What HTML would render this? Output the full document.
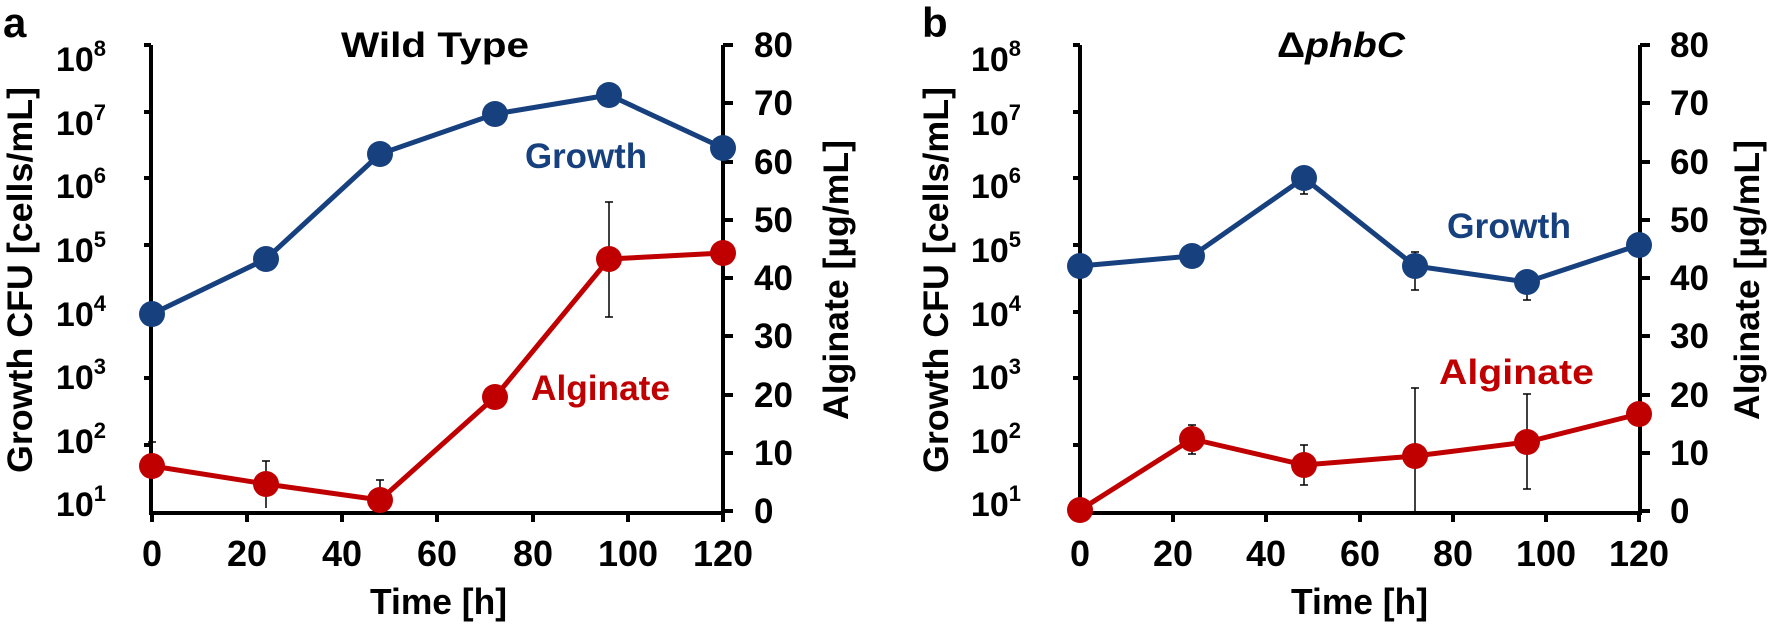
<!DOCTYPE html>
<html><head><meta charset="utf-8"><style>
html,body{margin:0;padding:0;background:#fff;}
svg{display:block;}
text{font-family:"Liberation Sans",Arial,sans-serif;font-weight:bold;}
</style></head><body>
<svg width="1770" height="627" viewBox="0 0 1770 627" xmlns="http://www.w3.org/2000/svg">
<!-- Panel a -->
<text x="3" y="37" font-size="42">a</text>
<text x="341" y="57" font-size="35" textLength="188" lengthAdjust="spacingAndGlyphs">Wild Type</text>
<g stroke="#000" stroke-width="4" fill="none">
<path d="M151,45 V513 H723 V45"/>
<path d="M144,45H151M144,112H151M144,178H151M144,245H151M144,312H151M144,378H151M144,445H151"/>
<path d="M152,511V522M247,511V522M342,511V522M437,511V522M533,511V522M628,511V522M723,511V522"/>
<path d="M723,45H733M723,103H733M723,162H733M723,220H733M723,278H733M723,336H733M723,395H733M723,453H733M723,511H733"/>
</g>
<g font-size="34" text-anchor="end">
<text x="106" y="71">10<tspan font-size="22" dy="-15">8</tspan></text>
<text x="106" y="135">10<tspan font-size="22" dy="-15">7</tspan></text>
<text x="106" y="198">10<tspan font-size="22" dy="-15">6</tspan></text>
<text x="106" y="262">10<tspan font-size="22" dy="-15">5</tspan></text>
<text x="106" y="326">10<tspan font-size="22" dy="-15">4</tspan></text>
<text x="106" y="389">10<tspan font-size="22" dy="-15">3</tspan></text>
<text x="106" y="453">10<tspan font-size="22" dy="-15">2</tspan></text>
<text x="106" y="516">10<tspan font-size="22" dy="-15">1</tspan></text>
</g>
<g font-size="36" text-anchor="middle">
<text x="152" y="566">0</text><text x="247" y="566">20</text><text x="342" y="566">40</text><text x="437" y="566">60</text><text x="533" y="566">80</text><text x="628" y="566">100</text><text x="723" y="566">120</text>
</g>
<text x="370" y="614" font-size="36" textLength="137" lengthAdjust="spacingAndGlyphs">Time [h]</text>
<g font-size="35" text-anchor="start">
<text x="754" y="57">80</text><text x="754" y="115">70</text><text x="754" y="174">60</text><text x="754" y="232">50</text><text x="754" y="290">40</text><text x="754" y="348">30</text><text x="754" y="407">20</text><text x="754" y="465">10</text><text x="754" y="523">0</text>
</g>
<text transform="translate(32,473) rotate(-90)" font-size="35" textLength="386" lengthAdjust="spacingAndGlyphs">Growth CFU [cells/mL]</text>
<text transform="translate(848,420) rotate(-90)" font-size="35" textLength="280" lengthAdjust="spacingAndGlyphs">Alginate [µg/mL]</text>
<g stroke="#000" stroke-width="1.5">
<path d="M152,442V490M148,442H156"/>
<path d="M266,461V508M262,461H270"/>
<path d="M380,480V511M376,480H384"/>
<path d="M609,202V317M605,202H613M605,317H613"/>
</g>
<polyline points="152,314 266,259 380,154 495,114 609,95 723,148" fill="none" stroke="#17407e" stroke-width="5"/>
<g fill="#17407e"><circle cx="152" cy="314" r="13"/><circle cx="266" cy="259" r="13"/><circle cx="380" cy="154" r="13"/><circle cx="495" cy="114" r="13"/><circle cx="609" cy="95" r="13"/><circle cx="723" cy="148" r="13"/></g>
<polyline points="152,466 266,484 380,500 495,397 609,259 723,253" fill="none" stroke="#c00000" stroke-width="5"/>
<g fill="#c00000"><circle cx="152" cy="466" r="13"/><circle cx="266" cy="484" r="13"/><circle cx="380" cy="500" r="13"/><circle cx="495" cy="397" r="13"/><circle cx="609" cy="259" r="13"/><circle cx="723" cy="253" r="13"/></g>
<text x="525" y="168" font-size="35" fill="#17407e" textLength="122" lengthAdjust="spacingAndGlyphs">Growth</text>
<text x="531" y="400" font-size="35" fill="#c00000" textLength="139" lengthAdjust="spacingAndGlyphs">Alginate</text>

<!-- Panel b -->
<text x="922" y="37" font-size="42">b</text>
<text x="1277" y="57" font-size="35" textLength="128" lengthAdjust="spacingAndGlyphs">Δ<tspan font-style="italic">phbC</tspan></text>
<g stroke="#000" stroke-width="4" fill="none">
<path d="M1080,45 V513 H1640 V45"/>
<path d="M1073,45H1080M1073,112H1080M1073,178H1080M1073,245H1080M1073,312H1080M1073,378H1080M1073,445H1080"/>
<path d="M1080,511V522M1173,511V522M1266,511V522M1360,511V522M1453,511V522M1546,511V522M1639,511V522"/>
<path d="M1640,45H1650M1640,103H1650M1640,162H1650M1640,220H1650M1640,278H1650M1640,336H1650M1640,395H1650M1640,453H1650M1640,511H1650"/>
</g>
<g font-size="34" text-anchor="end">
<text x="1021" y="71">10<tspan font-size="22" dy="-15">8</tspan></text>
<text x="1021" y="135">10<tspan font-size="22" dy="-15">7</tspan></text>
<text x="1021" y="198">10<tspan font-size="22" dy="-15">6</tspan></text>
<text x="1021" y="262">10<tspan font-size="22" dy="-15">5</tspan></text>
<text x="1021" y="326">10<tspan font-size="22" dy="-15">4</tspan></text>
<text x="1021" y="389">10<tspan font-size="22" dy="-15">3</tspan></text>
<text x="1021" y="453">10<tspan font-size="22" dy="-15">2</tspan></text>
<text x="1021" y="516">10<tspan font-size="22" dy="-15">1</tspan></text>
</g>
<g font-size="36" text-anchor="middle">
<text x="1080" y="566">0</text><text x="1173" y="566">20</text><text x="1266" y="566">40</text><text x="1360" y="566">60</text><text x="1453" y="566">80</text><text x="1546" y="566">100</text><text x="1639" y="566">120</text>
</g>
<text x="1291" y="614" font-size="36" textLength="137" lengthAdjust="spacingAndGlyphs">Time [h]</text>
<g font-size="35" text-anchor="start">
<text x="1670" y="57">80</text><text x="1670" y="115">70</text><text x="1670" y="174">60</text><text x="1670" y="232">50</text><text x="1670" y="290">40</text><text x="1670" y="348">30</text><text x="1670" y="407">20</text><text x="1670" y="465">10</text><text x="1670" y="523">0</text>
</g>
<text transform="translate(948,473) rotate(-90)" font-size="35" textLength="386" lengthAdjust="spacingAndGlyphs">Growth CFU [cells/mL]</text>
<text transform="translate(1759,420) rotate(-90)" font-size="35" textLength="280" lengthAdjust="spacingAndGlyphs">Alginate [µg/mL]</text>
<g stroke="#000" stroke-width="1.5">
<path d="M1192,425V454M1188,425H1196M1188,454H1196"/>
<path d="M1304,445V485M1300,445H1308M1300,485H1308"/>
<path d="M1415,388V511M1411,388H1419"/>
<path d="M1527,394V489M1523,394H1531M1523,489H1531"/>
<path d="M1304,178V194M1300,194H1308"/>
<path d="M1415,252V290M1411,252H1419M1411,290H1419"/>
<path d="M1527,282V300M1523,300H1531"/>
<path d="M1639,228V245"/>
</g>
<polyline points="1080,266 1192,256 1304,178 1415,266 1527,282 1639,245" fill="none" stroke="#17407e" stroke-width="5"/>
<g fill="#17407e"><circle cx="1080" cy="266" r="13"/><circle cx="1192" cy="256" r="13"/><circle cx="1304" cy="178" r="13"/><circle cx="1415" cy="266" r="13"/><circle cx="1527" cy="282" r="13"/><circle cx="1639" cy="245" r="13"/></g>
<polyline points="1080,510 1192,439 1304,465 1415,456 1527,442 1639,414" fill="none" stroke="#c00000" stroke-width="5"/>
<g fill="#c00000"><circle cx="1080" cy="510" r="13"/><circle cx="1192" cy="439" r="13"/><circle cx="1304" cy="465" r="13"/><circle cx="1415" cy="456" r="13"/><circle cx="1527" cy="442" r="13"/><circle cx="1639" cy="414" r="13"/></g>
<text x="1447" y="238" font-size="35" fill="#17407e" textLength="124" lengthAdjust="spacingAndGlyphs">Growth</text>
<text x="1439" y="384" font-size="35" fill="#c00000" textLength="155" lengthAdjust="spacingAndGlyphs">Alginate</text>
</svg>
</body></html>
